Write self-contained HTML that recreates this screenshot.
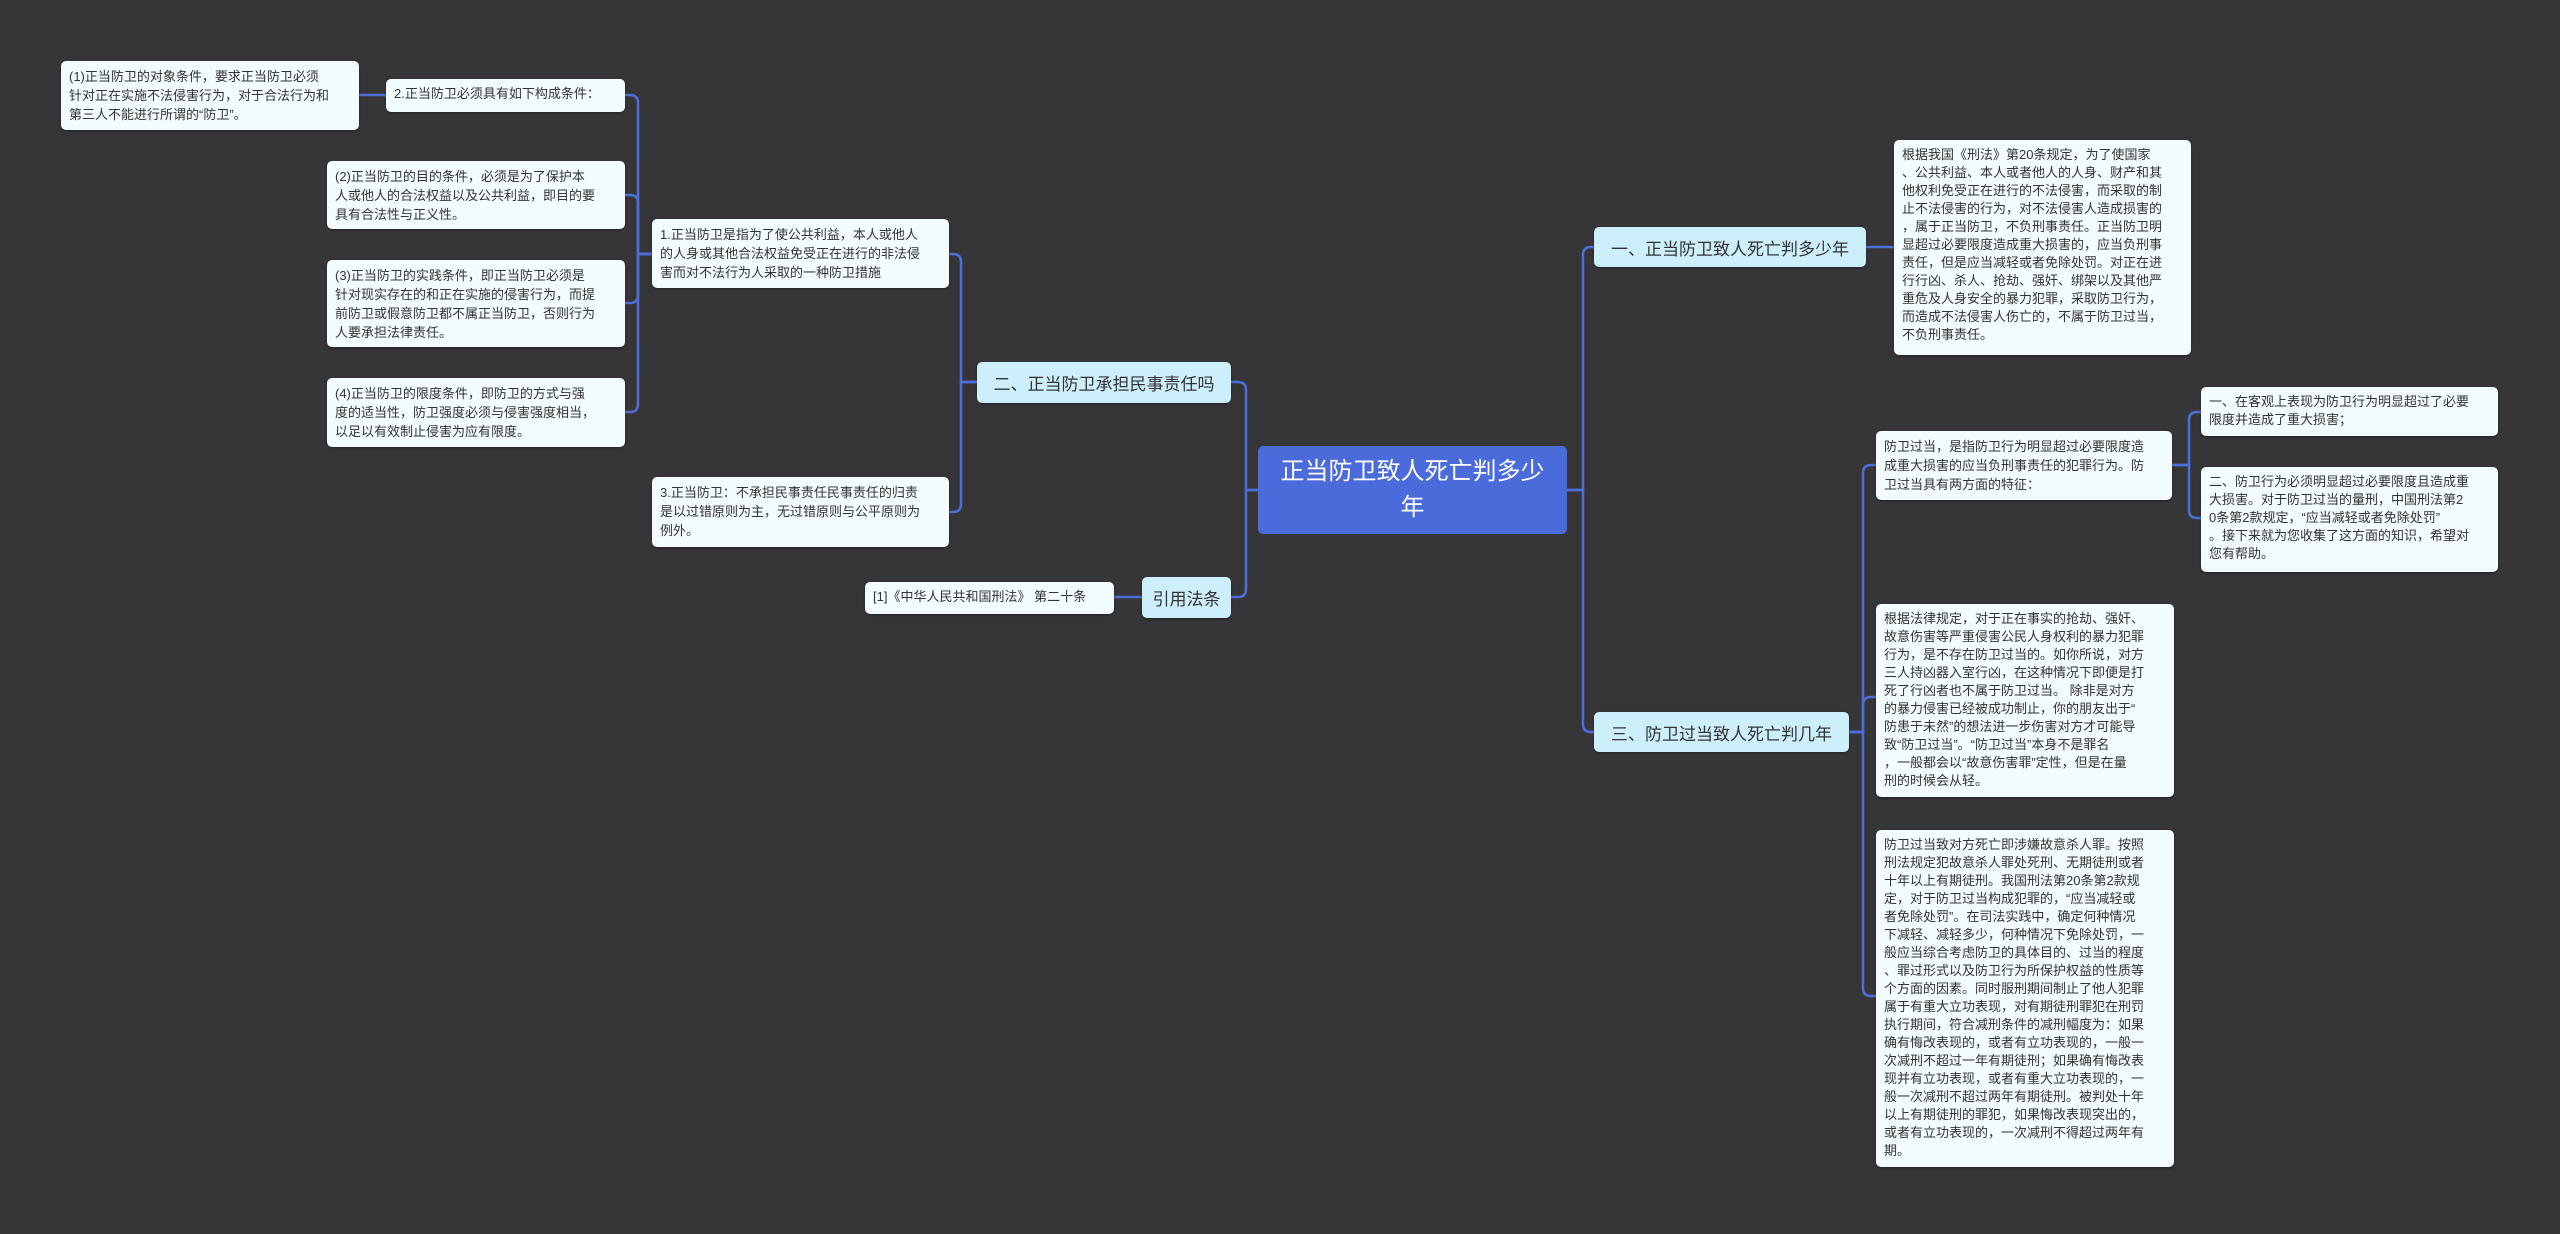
<!DOCTYPE html>
<html><head><meta charset="utf-8"><style>
html,body{margin:0;padding:0;}
body{width:2560px;height:1234px;background:#363538;position:relative;overflow:hidden;font-family:"Liberation Sans","Noto Sans CJK SC",sans-serif;}
.b{position:absolute;box-sizing:border-box;background:#f2fbfd;border-radius:5px;color:#333;font-size:13px;line-height:18px;padding:6px 8px;white-space:nowrap;overflow:hidden;box-shadow:0 1px 2px rgba(0,0,0,.4);}
.s{position:absolute;box-sizing:border-box;background:#cdeefb;border-radius:5px;color:#333;font-size:17px;display:flex;align-items:center;justify-content:center;white-space:nowrap;box-shadow:0 1px 2px rgba(0,0,0,.4);}
.c{position:absolute;box-sizing:border-box;background:#4a6bd9;border-radius:5px;color:#fff;font-size:24px;line-height:36px;text-align:center;display:flex;align-items:center;justify-content:center;}
svg{position:absolute;left:0;top:0;}
</style></head><body>
<svg width="2560" height="1234"><g fill="none" stroke="#4d6fdc" stroke-width="2.5">
<path d="M1258,490 H1246 V390 Q1246,382 1238,382 H1231"/>
<path d="M1258,490 H1246 V589 Q1246,597 1238,597 H1231"/>
<path d="M977,382 H961 V262 Q961,254 953,254 H949"/>
<path d="M977,382 H961 V504 Q961,512 953,512 H949"/>
<path d="M652,254 H638 V103 Q638,95 630,95 H625"/>
<path d="M652,254 H638 V203 Q638,195 630,195 H625"/>
<path d="M652,254 H638 V295 Q638,303 630,303 H625"/>
<path d="M652,254 H638 V404 Q638,412 630,412 H625"/>
<path d="M386,95 H359"/>
<path d="M1142,597 H1114"/>
<path d="M1567,490 H1583 V255 Q1583,247 1591,247 H1594"/>
<path d="M1567,490 H1583 V724 Q1583,732 1591,732 H1594"/>
<path d="M1866,247 H1894"/>
<path d="M1849,732 H1863 V473 Q1863,465 1871,465 H1876"/>
<path d="M1849,732 H1863 V705 Q1863,697 1871,697 H1876"/>
<path d="M1849,732 H1863 V988 Q1863,996 1871,996 H1876"/>
<path d="M2172,465 H2189 V420 Q2189,412 2197,412 H2201"/>
<path d="M2172,465 H2189 V510 Q2189,518 2197,518 H2201"/>
</g></svg>

<div class="c" style="left:1258px;top:446px;width:309px;height:88px;">正当防卫致人死亡判多少<br>年</div>

<div class="s" style="left:977px;top:362px;width:254px;height:41px;">二、正当防卫承担民事责任吗</div>
<div class="s" style="left:1142px;top:577px;width:89px;height:41px;">引用法条</div>
<div class="s" style="left:1594px;top:227px;width:272px;height:40px;">一、正当防卫致人死亡判多少年</div>
<div class="s" style="left:1594px;top:712px;width:255px;height:40px;">三、防卫过当致人死亡判几年</div>

<div class="b" style="left:61px;top:61px;width:298px;height:69px;line-height:19px;">(1)正当防卫的对象条件，要求正当防卫必须<br>针对正在实施不法侵害行为，对于合法行为和<br>第三人不能进行所谓的“防卫”。</div>
<div class="b" style="left:386px;top:79px;width:239px;height:33px;">2.正当防卫必须具有如下构成条件：</div>
<div class="b" style="left:327px;top:161px;width:298px;height:68px;line-height:19px;">(2)正当防卫的目的条件，必须是为了保护本<br>人或他人的合法权益以及公共利益，即目的要<br>具有合法性与正义性。</div>
<div class="b" style="left:327px;top:260px;width:298px;height:87px;line-height:19px;">(3)正当防卫的实践条件，即正当防卫必须是<br>针对现实存在的和正在实施的侵害行为，而提<br>前防卫或假意防卫都不属正当防卫，否则行为<br>人要承担法律责任。</div>
<div class="b" style="left:327px;top:378px;width:298px;height:69px;line-height:19px;">(4)正当防卫的限度条件，即防卫的方式与强<br>度的适当性，防卫强度必须与侵害强度相当，<br>以足以有效制止侵害为应有限度。</div>
<div class="b" style="left:652px;top:219px;width:297px;height:69px;line-height:19px;">1.正当防卫是指为了使公共利益，本人或他人<br>的人身或其他合法权益免受正在进行的非法侵<br>害而对不法行为人采取的一种防卫措施</div>
<div class="b" style="left:652px;top:477px;width:297px;height:70px;line-height:19px;">3.正当防卫：不承担民事责任民事责任的归责<br>是以过错原则为主，无过错原则与公平原则为<br>例外。</div>
<div class="b" style="left:865px;top:582px;width:249px;height:32px;">[1]《中华人民共和国刑法》 第二十条</div>

<div class="b" style="left:1894px;top:140px;width:297px;height:215px;">根据我国《刑法》第20条规定，为了使国家<br>、公共利益、本人或者他人的人身、财产和其<br>他权利免受正在进行的不法侵害，而采取的制<br>止不法侵害的行为，对不法侵害人造成损害的<br>，属于正当防卫，不负刑事责任。正当防卫明<br>显超过必要限度造成重大损害的，应当负刑事<br>责任，但是应当减轻或者免除处罚。对正在进<br>行行凶、杀人、抢劫、强奸、绑架以及其他严<br>重危及人身安全的暴力犯罪，采取防卫行为，<br>而造成不法侵害人伤亡的，不属于防卫过当，<br>不负刑事责任。</div>
<div class="b" style="left:1876px;top:431px;width:296px;height:69px;line-height:19px;">防卫过当，是指防卫行为明显超过必要限度造<br>成重大损害的应当负刑事责任的犯罪行为。防<br>卫过当具有两方面的特征：</div>
<div class="b" style="left:2201px;top:387px;width:297px;height:49px;">一、在客观上表现为防卫行为明显超过了必要<br>限度并造成了重大损害；</div>
<div class="b" style="left:2201px;top:467px;width:297px;height:105px;">二、防卫行为必须明显超过必要限度且造成重<br>大损害。对于防卫过当的量刑，中国刑法第2<br>0条第2款规定，“应当减轻或者免除处罚”<br>。接下来就为您收集了这方面的知识，希望对<br>您有帮助。</div>
<div class="b" style="left:1876px;top:604px;width:298px;height:193px;">根据法律规定，对于正在事实的抢劫、强奸、<br>故意伤害等严重侵害公民人身权利的暴力犯罪<br>行为，是不存在防卫过当的。如你所说，对方<br>三人持凶器入室行凶，在这种情况下即便是打<br>死了行凶者也不属于防卫过当。 除非是对方<br>的暴力侵害已经被成功制止，你的朋友出于“<br>防患于未然”的想法进一步伤害对方才可能导<br>致“防卫过当”。“防卫过当”本身不是罪名<br>，一般都会以“故意伤害罪”定性，但是在量<br>刑的时候会从轻。</div>
<div class="b" style="left:1876px;top:830px;width:298px;height:337px;">防卫过当致对方死亡即涉嫌故意杀人罪。按照<br>刑法规定犯故意杀人罪处死刑、无期徒刑或者<br>十年以上有期徒刑。我国刑法第20条第2款规<br>定，对于防卫过当构成犯罪的，“应当减轻或<br>者免除处罚”。在司法实践中，确定何种情况<br>下减轻、减轻多少，何种情况下免除处罚，一<br>般应当综合考虑防卫的具体目的、过当的程度<br>、罪过形式以及防卫行为所保护权益的性质等<br>个方面的因素。同时服刑期间制止了他人犯罪<br>属于有重大立功表现，对有期徒刑罪犯在刑罚<br>执行期间，符合减刑条件的减刑幅度为：如果<br>确有悔改表现的，或者有立功表现的，一般一<br>次减刑不超过一年有期徒刑；如果确有悔改表<br>现并有立功表现，或者有重大立功表现的，一<br>般一次减刑不超过两年有期徒刑。被判处十年<br>以上有期徒刑的罪犯，如果悔改表现突出的，<br>或者有立功表现的，一次减刑不得超过两年有<br>期。</div>
</body></html>
